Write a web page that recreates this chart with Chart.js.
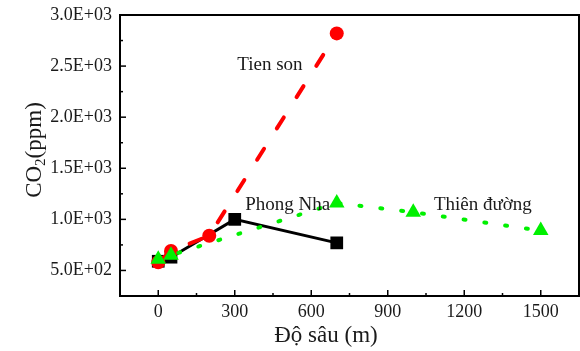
<!DOCTYPE html>
<html>
<head>
<meta charset="utf-8">
<script src="https://cdn.jsdelivr.net/npm/chart.js@4"></script>
<style>
  html, body { margin: 0; padding: 0; background: #fff; overflow: hidden; }
  #wrap { width: 580px; height: 351px; position: relative; }
  canvas { display: block; }
</style>
</head>
<body>
<div id="wrap"><canvas id="myChart"></canvas></div>
<script>
// data
const phongNhaDepth = [0, 50, 300, 700];
const phongNhaCO2 = [590, 630, 1000, 770];
const tienSonDepth = [0, 50, 200, 700];
const tienSonCO2 = [580, 690, 840, 2820];
const thienDuongDepth = [0, 50, 700, 1000, 1500];
const thienDuongCO2 = [610, 650, 1160, 1070, 890];
const xLabelTicks = [0, 300, 600, 900, 1200, 1500];
const yLabelTicks = [500, 1000, 1500, 2000, 2500, 3000];

// text labels placed in data units
const seriesLabels = [
    { text: 'Tien son', x: 438, y: 2510 },
    { text: 'Phong Nha', x: 508, y: 1143 },
    { text: 'Thiên đường', x: 1273, y: 1143 }
];

const serif = "'Liberation Serif', 'Times New Roman', serif";
const textColor = '#1a1a1a';

function toPoints(xs, ys) {
    return xs.map((x, i) => ({ x: x, y: ys[i] }));
}

function sciLabel(v) {
    let parts = v.toExponential(1).split('e');
    let exp = parts[1];
    return parts[0] + 'E' + exp[0] + exp.slice(1).padStart(2, '0');
}

// frame, inward ticks, axis titles and text labels
const framePlugin = {
    id: 'frame',
    afterDraw(chart) {
        const ctx = chart.ctx;
        const area = chart.chartArea;
        const xs = chart.scales.x;
        const ys = chart.scales.y;
        ctx.save();
        ctx.strokeStyle = '#000';
        ctx.lineWidth = 2;
        ctx.strokeRect(area.left, area.top, area.right - area.left, area.bottom - area.top);

        ctx.lineWidth = 1.5;
        for (let v = -150; v <= 1650; v += 150) {
            let px = xs.getPixelForValue(v);
            let len = (v % 300 === 0) ? 6 : 3;
            ctx.beginPath();
            ctx.moveTo(px, area.bottom);
            ctx.lineTo(px, area.bottom - len);
            ctx.stroke();
        }
        for (let v = 250; v <= 3000; v += 250) {
            let py = ys.getPixelForValue(v);
            let len = (v % 500 === 0) ? 6 : 3;
            ctx.beginPath();
            ctx.moveTo(area.left, py);
            ctx.lineTo(area.left + len, py);
            ctx.stroke();
        }

        ctx.fillStyle = textColor;
        ctx.font = '19px ' + serif;
        ctx.textAlign = 'center';
        ctx.textBaseline = 'middle';
        for (let i = 0; i < seriesLabels.length; i++) {
            const lab = seriesLabels[i];
            ctx.fillText(lab.text, xs.getPixelForValue(lab.x), ys.getPixelForValue(lab.y));
        }

        // x title, sits a bit left of the plot centre in the original
        ctx.font = '23px ' + serif;
        ctx.fillText('Độ sâu (m)', 326, 336);

        // y title with a real subscript 2
        ctx.translate(35, 150);
        ctx.rotate(-Math.PI / 2);
        ctx.textAlign = 'left';
        ctx.textBaseline = 'middle';
        const bigFont = '23px ' + serif;
        const subFont = '15px ' + serif;
        ctx.font = bigFont;
        const w1 = ctx.measureText('CO').width;
        const w3 = ctx.measureText('(ppm)').width;
        ctx.font = subFont;
        const w2 = ctx.measureText('2').width;
        let x0 = -(w1 + w2 + w3) / 2;
        ctx.font = bigFont;
        ctx.fillText('CO', x0, 0);
        ctx.font = subFont;
        ctx.fillText('2', x0 + w1, 6);
        ctx.font = bigFont;
        ctx.fillText('(ppm)', x0 + w1 + w2, 0);
        ctx.restore();
    }
};

const ctx = document.getElementById('myChart');

new Chart(ctx, {
    type: 'line',
    data: {
        datasets: [{
            label: 'Thiên đường',
            data: toPoints(thienDuongDepth, thienDuongCO2),
            borderColor: '#00f000',
            backgroundColor: '#00f000',
            borderWidth: 4,
            borderDash: [2, 19],
            borderCapStyle: 'round',
            pointStyle: 'triangle',
            pointRadius: 9,
            pointBorderWidth: 0,
            order: 1
        }, {
            label: 'Tien son',
            data: toPoints(tienSonDepth, tienSonCO2),
            borderColor: '#ff0000',
            backgroundColor: '#ff0000',
            borderWidth: 4,
            borderDash: [13, 24],
            borderCapStyle: 'round',
            pointStyle: 'circle',
            pointRadius: 7,
            pointBorderWidth: 0,
            order: 2
        }, {
            label: 'Phong Nha',
            data: toPoints(phongNhaDepth, phongNhaCO2),
            borderColor: '#000000',
            backgroundColor: '#000000',
            borderWidth: 3,
            pointStyle: 'rect',
            pointRadius: 9,
            pointBorderWidth: 0,
            order: 3
        }]
    },
    options: {
        responsive: true,
        maintainAspectRatio: false,
        animation: false,
        layout: {
            autoPadding: false, // otherwise the big markers push the right edge in
            padding: { top: 15, right: 1, left: 0, bottom: 0 }
        },
        plugins: {
            legend: { display: false },
            tooltip: { enabled: false }
        },
        elements: { line: { tension: 0 } },
        scales: {
            x: {
                type: 'linear',
                min: -150,
                max: 1650,
                // tickLength only pushes the labels down; grid itself is hidden
                grid: { display: false, drawTicks: true, tickLength: 5 },
                border: { display: false },
                ticks: {
                    stepSize: 150,
                    autoSkip: false,
                    maxRotation: 0,
                    padding: 0,
                    color: textColor,
                    font: { family: serif, size: 18 },
                    callback: v => xLabelTicks.includes(v) ? String(v) : ''
                },
                title: { display: false },
                afterFit(scale) { scale.height = 55; }
            },
            y: {
                type: 'linear',
                min: 250,
                max: 3000,
                grid: { display: false, drawTicks: true, tickLength: 8 },
                border: { display: false },
                ticks: {
                    stepSize: 250,
                    autoSkip: false,
                    padding: 0,
                    color: textColor,
                    font: { family: serif, size: 18 },
                    callback: v => yLabelTicks.includes(v) ? sciLabel(v) : ''
                },
                title: { display: false },
                afterFit(scale) { scale.width = 120; }
            }
        }
    },
    plugins: [framePlugin]
});
</script>
</body>
</html>
